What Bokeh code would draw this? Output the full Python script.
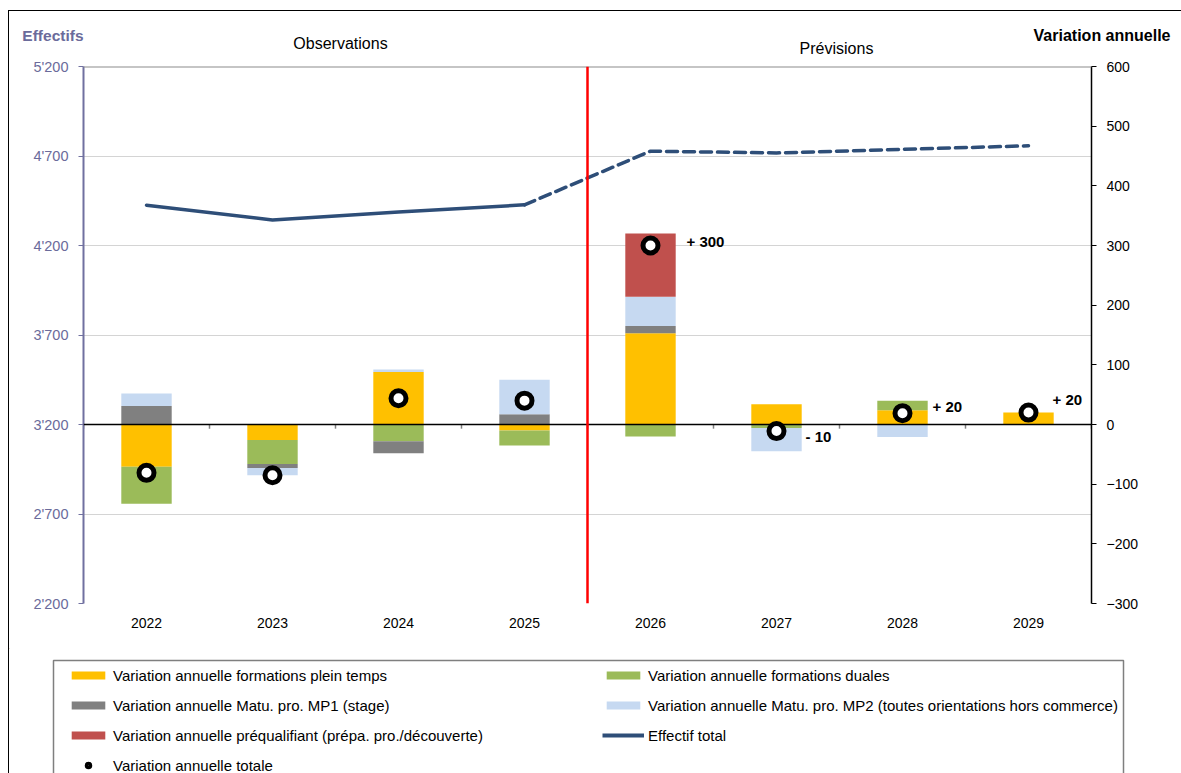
from bokeh.plotting import figure
from bokeh.layouts import column
from bokeh.models import (Range1d, LinearAxis, FixedTicker, Span, Legend,
                          LegendItem, ColumnDataSource)
from bokeh.core.properties import value
from bokeh.embed import file_html
from bokeh.resources import INLINE

# ---------------- data ----------------
years = ["2022", "2023", "2024", "2025", "2026", "2027", "2028", "2029"]
n_observed = 4
plein_temps = [-71, -26, 88, -10, 153, 34, 24, 20]
duales = [-62, -40, -28, -25, -20, -6, 16, 0]
mp1 = [31, -7, -20, 17, 12, 0, 0, 0]
mp2 = [21, -12, 4, 58, 49, -39, -21, 0]
prequalifiant = [0, 0, 0, 0, 106, 0, 0, 0]
effectif_total = [4425, 4343, 4387, 4427, 4727, 4717, 4737, 4757]
change_labels = ["", "", "", "", "+ 300", "- 10", "+ 20", "+ 20"]
left_ticks = [2200, 2700, 3200, 3700, 4200, 4700, 5200]
right_ticks = [-300, -200, -100, 0, 100, 200, 300, 400, 500, 600]

series_names = [
    "Variation annuelle formations plein temps",
    "Variation annuelle formations duales",
    "Variation annuelle Matu. pro. MP1 (stage)",
    "Variation annuelle Matu. pro. MP2 (toutes orientations hors commerce)",
    "Variation annuelle préqualifiant (prépa. pro./découverte)",
]
series_vals = [plein_temps, duales, mp1, mp2, prequalifiant]
series_colors = ["#FFC000", "#9BBB59", "#808080", "#C6D9F1", "#C0504D"]
line_label = "Effectif total"
dot_label = "Variation annuelle totale"

FONT = "Liberation Sans"
LINE_COLOR = "#2E4E78"
W = 1172
N = len(years)
xs = list(range(N))

# ---------------- header (titles above the chart) ----------------
HH = 45
header = figure(width=W, height=HH, output_backend="svg", toolbar_location=None,
                x_range=Range1d(0, W), y_range=Range1d(HH, 0),
                x_axis_location=None, y_axis_location=None, min_border=0,
                frame_align=False)
header.outline_line_color = None
header.grid.visible = False
hdr = ColumnDataSource(dict(
    x=[74, 1161, 331, 827], y=[24, 24, 32, 37],
    text=["Effectifs", "Variation annuelle", "Observations", "Prévisions"],
    color=["#6B6B9B", "black", "black", "black"],
    align=["right", "right", "center", "center"],
    size=["15.5px", "16px", "16px", "16px"],
    style=["bold", "bold", "normal", "normal"]))
header.text(x="x", y="y", text="text", source=hdr, text_color="color",
            text_align="align", text_font_size="size", text_font_style="style",
            text_baseline="middle", text_font=value(FONT))

# ---------------- main chart ----------------
p = figure(width=W, height=592, output_backend="svg", toolbar_location=None,
           x_range=Range1d(-0.5, N - 0.5), y_range=Range1d(left_ticks[0], left_ticks[-1]),
           min_border_left=74, min_border_right=90, min_border_top=10, min_border_bottom=45,
           frame_align=False)
p.outline_line_color = None
p.extra_y_ranges = {"right": Range1d(right_ticks[0], right_ticks[-1])}

ya = p.yaxis[0]
ya.ticker = FixedTicker(ticks=left_ticks)
ya.major_label_overrides = {t: f"{t:,}".replace(",", "'") for t in left_ticks}
ya.axis_line_color = "#7070A0"
ya.axis_line_width = 2
ya.major_tick_line_color = "#7070A0"
ya.major_tick_out = 5
ya.major_tick_in = 0
ya.minor_tick_line_color = None
ya.major_label_text_color = "#6B6B9B"
ya.major_label_text_font = FONT
ya.major_label_text_font_size = "14.5px"
ya.major_label_standoff = 10

ra = LinearAxis(y_range_name="right", ticker=FixedTicker(ticks=right_ticks))
ra.axis_line_color = "black"
ra.axis_line_width = 1.5
ra.major_tick_line_color = "black"
ra.major_tick_out = 5
ra.major_tick_in = 0
ra.minor_tick_line_color = None
ra.major_label_text_color = "black"
ra.major_label_text_font = FONT
ra.major_label_text_font_size = "14px"
ra.major_label_standoff = 10
p.add_layout(ra, "right")

xa = p.xaxis[0]
xa.ticker = FixedTicker(ticks=xs)
xa.major_label_overrides = {i: y for i, y in enumerate(years)}
xa.axis_line_color = None
xa.major_tick_line_color = None
xa.minor_tick_line_color = None
xa.major_label_text_font = FONT
xa.major_label_text_font_size = "14px"
xa.major_label_text_color = "black"
xa.major_label_standoff = 8

p.xgrid.visible = False
p.ygrid.ticker = FixedTicker(ticks=left_ticks)
p.ygrid.grid_line_color = "#D4D4D4"
p.ygrid.grid_line_width = 1.2
p.add_layout(Span(location=left_ticks[-1], dimension="width", line_color="#8C8C8C", line_width=2))

# stacked bars (positives stack up, negatives stack down, in series order)
pos = [0] * N
neg = [0] * N
for vals, color in zip(series_vals, series_colors):
    bottoms, tops = [], []
    for i, v in enumerate(vals):
        if v >= 0:
            b = pos[i]; t = b + v; pos[i] = t
        else:
            b = neg[i]; t = b + v; neg[i] = t
        bottoms.append(b); tops.append(t)
    p.vbar(x=xs, bottom=bottoms, top=tops, width=0.4, fill_color=color,
           line_color=None, y_range_name="right")

p.add_layout(Span(location=0, dimension="width", y_range_name="right",
                  line_color="black", line_width=1.3))
bounds = [i - 0.5 for i in range(N + 1)]
p.segment(x0=bounds, x1=bounds, y0=[0] * len(bounds), y1=[-7] * len(bounds),
          line_color="#808080", line_width=1.5, y_range_name="right")

p.add_layout(Span(location=n_observed - 0.5, dimension="height", line_color="#FF0000", line_width=2.5))

p.line(xs[:n_observed], effectif_total[:n_observed], line_color=LINE_COLOR,
       line_width=3.5, line_cap="round")
p.line(xs[n_observed - 1:], effectif_total[n_observed - 1:], line_color=LINE_COLOR,
       line_width=3.5, line_dash="11 6", line_cap="round")

totals = [sum(v[i] for v in series_vals) for i in range(N)]
p.scatter(xs, totals, size=15, fill_color="white", line_color="black",
          line_width=5, y_range_name="right")

lab_idx = [i for i, t in enumerate(change_labels) if t]
lab_src = ColumnDataSource(dict(
    x=[xs[i] for i in lab_idx], y=[totals[i] for i in lab_idx],
    text=[change_labels[i] for i in lab_idx],
    xo=[36, 29, 30, 24], yo=[-4, 5, -7, -13]))
p.text(x="x", y="y", text="text", x_offset="xo", y_offset="yo", source=lab_src,
       text_font=value(FONT), text_font_size="15px", text_font_style="bold",
       text_align="left", text_baseline="middle", text_color="black",
       y_range_name="right")

# ---------------- legend ----------------
LH = 125
lf = figure(width=W, height=LH, output_backend="svg", toolbar_location=None,
            x_range=Range1d(0, W), y_range=Range1d(LH, 0),
            x_axis_location=None, y_axis_location=None, min_border=0,
            frame_align=False)
lf.outline_line_color = None
lf.grid.visible = False
# legend frame
lf.quad(left=[44], right=[1114], top=[12], bottom=[LH + 20], fill_color=None,
        line_color="#7F7F7F", line_width=1.5)
# legend keys (off-screen proxies carrying the series styles)
off = [-100]
proxy = [lf.vbar(x=off, top=off, bottom=off, width=1, fill_color=c, line_color=None)
         for c in series_colors]
proxy_line = lf.line(x=off, y=off, line_color=LINE_COLOR, line_width=4)
proxy_dot = lf.scatter(x=off, y=off, size=12, fill_color="white", line_color="black", line_width=3.5)
items = [
    LegendItem(label=series_names[0], renderers=[proxy[0]]),
    LegendItem(label=series_names[1], renderers=[proxy[1]]),
    LegendItem(label=series_names[2], renderers=[proxy[2]]),
    LegendItem(label=series_names[3], renderers=[proxy[3]]),
    LegendItem(label=series_names[4], renderers=[proxy[4]]),
    LegendItem(label=line_label, renderers=[proxy_line]),
    LegendItem(label=dot_label, renderers=[proxy_dot]),
]
legend = Legend(items=items, orientation="horizontal", ncols=2, location=(58, -1),
                glyph_width=42, glyph_height=10, label_height=18, spacing=12,
                label_standoff=4, label_width=477, padding=0, margin=0,
                border_line_color=None, background_fill_alpha=0,
                label_text_font=FONT, label_text_font_size="15px", label_text_color="black")
lf.add_layout(legend)

layout = column(header, p, lf, spacing=0, margin=(10, 0, 0, 8),
                styles={"border-top": "1px solid black", "border-left": "1px solid black"})

open("out.html", "w").write(file_html(layout, INLINE))
